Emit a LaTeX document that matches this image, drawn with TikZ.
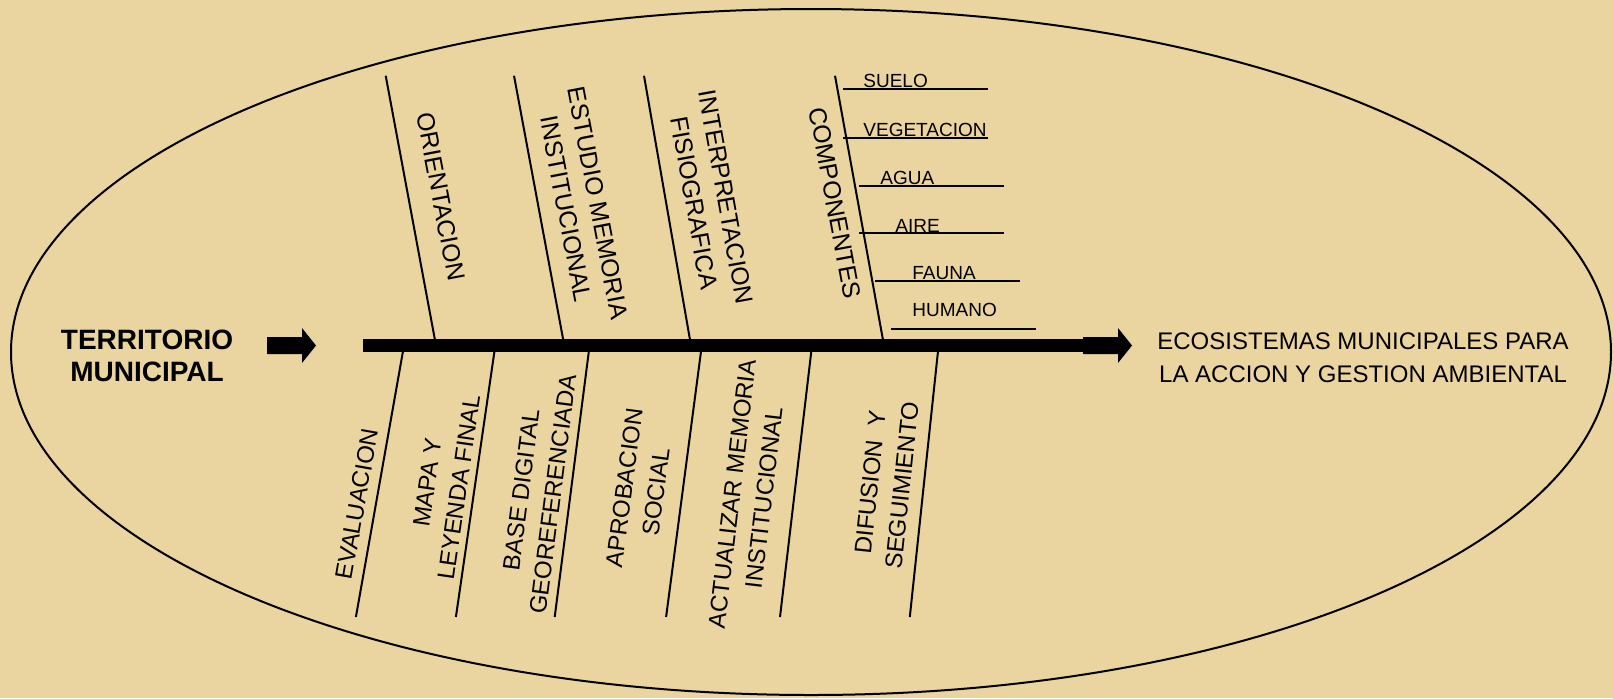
\documentclass[tikz,border=0pt]{standalone}
\usepackage{fontspec}
\setmainfont{Liberation Sans}
\usepackage{xcolor}
\usepackage{tikz}
\usetikzlibrary{calc}
\definecolor{papiro}{RGB}{234,212,160}

\begin{document}
\begin{tikzpicture}[x=0.5pt,y=-0.5pt,
  hueso/.style={line width=1pt},
  rotulo/.style={font=\fontsize{12}{16}\selectfont,align=center,inner sep=0pt},
  arriba/.style={rotulo,font=\fontsize{12.4}{16.2}\selectfont},
  menor/.style={font=\fontsize{9.5}{11}\selectfont,anchor=base west,inner sep=0pt}]

  % fondo y elipse
  \fill[papiro] (0,0) rectangle (1613,698);
  \useasboundingbox (0,0) rectangle (1613,698);
  \draw[line width=1pt] (811,352) ellipse [x radius=400pt,y radius=171.5pt];

  % espinas de arriba
  \foreach \n/\xa/\xb in {ori/385.7/436,est/514/564.3,int/644/691,com/835/884}{
    \coordinate (\n-a) at (\xa,75.7);
    \coordinate (\n-b) at (\xb,345.5);
    \draw[hueso] (\n-a) -- (\n-b);
  }

  % espinas de abajo
  \foreach \n/\xa/\xb in {eva/404/355.9,map/495.3/455.9,bas/589.6/554.7,%
                          apr/701.8/666.1,act/812/780,dif/938.6/909.8}{
    \coordinate (\n-a) at (\xa,345.5);
    \coordinate (\n-b) at (\xb,617);
    \draw[hueso] (\n-a) -- (\n-b);
  }

  % espina principal
  \coordinate (cola) at (363,345.5);
  \coordinate (punta) at (1083,345.5);
  \draw[line width=6.2pt] (cola) -- (punta);

  % flechas de bloque
  \foreach \x in {267,1083}
    \fill (\x,337) -- ++(35,0) -- ++(0,-9) -- ++(14,17.5) -- ++(-14,17.5)
          -- ++(0,-9) -- ++(-35,0) -- cycle;

  % extremos
  \node[rotulo,font=\fontsize{14}{16}\selectfont\bfseries] (terr) at (147,356)
       {TERRITORIO\\MUNICIPAL};
  \node[rotulo,font=\fontsize{12}{16.5}\selectfont] (eco) at (1363,357.5)
       {ECOSISTEMAS MUNICIPALES PARA\\LA ACCION Y GESTION AMBIENTAL};

  % rotulos de arriba
  \node[arriba,rotate=-79.2] (orient) at (441,197) {ORIENTACION};
  \node[arriba,rotate=-79.2] (estudio) at (582,206) {ESTUDIO MEMORIA\\INSTITUCIONAL};
  \node[arriba,rotate=-79.9] (interp) at (710,200) {INTERPRETACION\\FISIOGRAFICA};
  \node[arriba,rotate=-79.5] (compo) at (835,203) {COMPONENTES};

  % rotulos de abajo
  \node[rotulo,rotate=80] (evalua) at (357,504) {EVALUACION};
  \node[rotulo,rotate=81.8] (mapa) at (443,485) {MAPA Y\\LEYENDA FINAL};
  \node[rotulo,rotate=82.7] (base) at (537,492) {BASE DIGITAL\\GEOREFERENCIADA};
  \node[rotulo,rotate=82.5] (aprob) at (640,490) {APROBACION\\SOCIAL};
  \node[rotulo,rotate=83.3] (actual) at (748,496) {ACTUALIZAR MEMORIA\\INSTITUCIONAL};
  \node[rotulo,rotate=84] (difus) at (886,484) {DIFUSION~~Y\\SEGUIMIENTO};

  % componentes
  \foreach \n/\txt/\xt/\yt/\xa/\xb/\yl in {suelo/SUELO/863/87/843/988/89.3,%
      veg/VEGETACION/863/136/843/988/137.7,agua/AGUA/880/184/859/1004/185.7,%
      aire/AIRE/895/232/859/1004/233,fauna/FAUNA/912/279/875/1020/281,%
      hum/HUMANO/912/316/891/1036/329}{
    \node[menor] (\n) at (\xt,\yt) {\txt};
    \coordinate (\n-i) at (\xa,\yl);
    \coordinate (\n-d) at (\xb,\yl);
    \draw[hueso] (\n-i) -- (\n-d);
  }
\end{tikzpicture}
\end{document}
